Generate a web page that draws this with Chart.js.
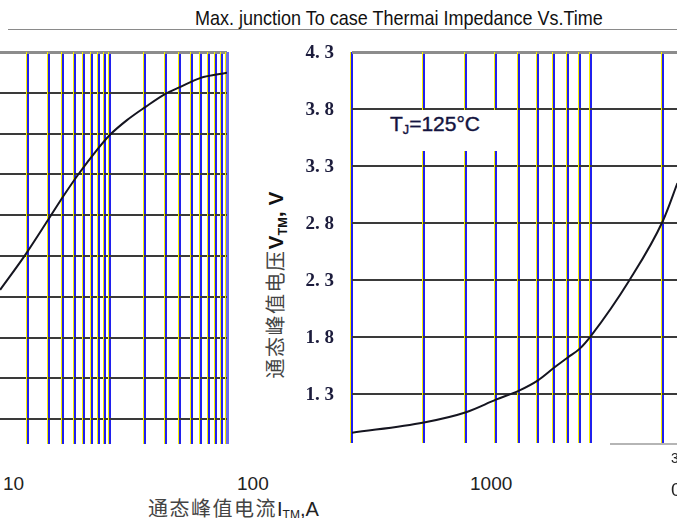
<!DOCTYPE html>
<html>
<head>
<meta charset="utf-8">
<script src="https://cdn.jsdelivr.net/npm/chart.js@4.4.1/dist/chart.umd.min.js"></script>
<style>
body{margin:0;width:677px;height:518px;overflow:hidden;background:#fff;position:relative;font-family:"Liberation Sans",Arial,sans-serif;color:#222}
.abs{position:absolute;white-space:nowrap}
.cjk{font-family:"Noto Sans CJK SC",sans-serif;color:#444;letter-spacing:1.5px}
sub{font-size:0.6em;vertical-align:-0.25em}
</style>
</head>
<body>
<div class="abs" style="left:8px;top:29px;width:669px;height:1px;background:#8a8a8a"></div>
<div id="title" class="abs" style="left:195px;top:6px;font-size:21px;color:#111;transform-origin:0 0">Max. junction To case Thermai Impedance Vs.Time</div>

<div class="abs" style="left:0;top:50px;width:230px;height:394px"><canvas id="cl"></canvas></div>
<div class="abs" style="left:295px;top:40px;width:382px;height:415px"><canvas id="cr"></canvas></div>

<div class="abs" style="left:380px;top:110px;width:125px;height:41px;background:#fff"></div>
<div class="abs" style="left:390px;top:112px;font-size:21px;color:#141440;-webkit-text-stroke:0.4px #141440">T<sub>J</sub>=125°C</div>

<div class="abs" style="left:275px;top:285px;transform:translate(-50%,-50%) rotate(-90deg)"><span class="cjk" style="font-size:20px">通态峰值电压</span><b style="font-size:21px;color:#111">V<sub>TM</sub>, V</b></div>
<div class="abs" style="left:148px;top:493px"><span class="cjk" style="font-size:20px">通态峰值电流</span><span style="font-size:20px">I<sub>TM</sub>,A</span></div>

<div id="xlabels"></div>
<div class="abs" style="left:610px;top:443px;width:67px;height:2px;background:#b5b5b5"></div>
<div class="abs" style="left:671px;top:450px;font-size:14px">3</div>
<div class="abs" style="left:671px;top:479px;font-size:19px">0</div>

<script>
// left chart: peak on-state current vs voltage
var leftCurrent = [11.5, 18.8, 29.5, 39.6, 53.3, 77.4, 100, 139.6, 200, 295, 396, 588, 1000]
var leftVolt = [4.17, 5.02, 5.88, 6.45, 6.99, 7.60, 7.97, 8.33, 8.65, 8.97, 9.14, 9.36, 9.49]
var leftXGrid = [20, 30, 40, 50, 60, 70, 80, 90, 100, 200, 300, 400, 500, 600, 700, 800, 900, 1000]
var leftYGrid = [1, 2, 3, 4, 5, 6, 7, 8, 9, 10]

// right chart: VTM vs ITM at 125C
var rightCurrent = [100, 200, 300, 400, 500, 600, 700, 800, 900, 1000, 1450, 2000, 2300]
var rightVolt = [0.96, 1.05, 1.14, 1.25, 1.33, 1.42, 1.53, 1.62, 1.70, 1.81, 2.30, 2.82, 3.15]
var rightXGrid = [100, 200, 300, 400, 500, 600, 700, 800, 900, 1000, 2000]
var rightYTicks = [1.3, 1.8, 2.3, 2.8, 3.3, 3.8, 4.3]

// x tick labels as printed (they sit off the grid in the scan)
var xLabelText = ['10', '100', '1000']
var xLabelLeft = [3, 237, 470]

xLabelText.forEach(function(t, i){
  var d = document.createElement('div')
  d.className = 'abs'
  d.style.left = xLabelLeft[i] + 'px'
  d.style.top = '473px'
  d.style.fontSize = '19px'
  d.textContent = t
  document.getElementById('xlabels').appendChild(d)
})

var t = document.getElementById('title')
t.style.transform = 'scaleX(' + (408 / t.offsetWidth) + ')'

// yellow edge left of each blue grid line, like the scan
var fringe = {
  id: 'fringe',
  beforeDatasetsDraw: function(chart){
    var c = chart.ctx, a = chart.chartArea, sx = chart.scales.x
    c.save()
    c.strokeStyle = '#f4ee00'
    c.lineWidth = 1
    sx.ticks.forEach(function(tk){
      var px = Math.round(sx.getPixelForValue(tk.value) - 1) + 1 - 1.5
      c.beginPath(); c.moveTo(px, a.top); c.lineTo(px, a.bottom); c.stroke()
    })
    c.restore()
  }
}

// y labels of the right chart, "4. 3" style
var yLabels = {
  id: 'yLabels',
  afterDraw: function(chart){
    var c = chart.ctx, sy = chart.scales.y, left = chart.chartArea.left
    c.save()
    c.font = 'bold 19px "Liberation Serif"'
    c.fillStyle = '#1c1c3c'
    c.textAlign = 'right'
    c.textBaseline = 'middle'
    rightYTicks.forEach(function(v){
      c.fillText(v.toFixed(1).replace('.', '. '), left - 18, sy.getPixelForValue(v) + 1)
    })
    c.restore()
  }
}

function pts(xs, ys){ return xs.map(function(x, i){ return {x: x, y: ys[i]} }) }
function setTicks(list){ return function(s){ s.ticks = list.map(function(v){ return {value: v} }) } }

new Chart(document.getElementById('cl'), {
  type: 'line',
  data: { datasets: [{ data: pts(leftCurrent, leftVolt), borderColor: '#151520', borderWidth: 2,
    pointRadius: 0, cubicInterpolationMode: 'monotone' }] },
  options: {
    responsive: true, maintainAspectRatio: false, animation: false,
    layout: { padding: { top: 2, right: 3, left: 0, bottom: 0 } },
    plugins: { legend: { display: false }, tooltip: { enabled: false } },
    scales: {
      x: { type: 'logarithmic', min: 11.47, max: 1000, afterBuildTicks: setTicks(leftXGrid),
        afterFit: function(s){ s.height = 0 },
        ticks: { display: false, autoSkip: false }, border: { display: false },
        grid: { drawTicks: false, color: function(c){ return c.tick && c.tick.value == 1000 ? '#6a6aee' : '#2020ee' },
          lineWidth: function(c){ return c.tick && c.tick.value == 1000 ? 3 : 2 } } },
      y: { min: 0.39, max: 10, afterBuildTicks: setTicks(leftYGrid),
        afterFit: function(s){ s.width = 0 },
        ticks: { display: false }, border: { display: false },
        grid: { drawTicks: false, color: function(c){ return c.tick && c.tick.value == 10 ? '#8c8c8c' : '#3a3a3a' },
          lineWidth: function(c){ return c.tick && c.tick.value == 10 ? 3 : 2 } } }
    }
  },
  plugins: [fringe]
})

new Chart(document.getElementById('cr'), {
  type: 'line',
  data: { datasets: [{ data: pts(rightCurrent, rightVolt), borderColor: '#151520', borderWidth: 2,
    pointRadius: 0, cubicInterpolationMode: 'monotone' }] },
  options: {
    responsive: true, maintainAspectRatio: false, animation: false,
    layout: { padding: { top: 12, right: 0, left: 57, bottom: 12 } },
    plugins: { legend: { display: false }, tooltip: { enabled: false } },
    scales: {
      x: { type: 'logarithmic', min: 100, max: 2290, afterBuildTicks: setTicks(rightXGrid),
        afterFit: function(s){ s.height = 0 },
        ticks: { display: false, autoSkip: false }, border: { display: false },
        grid: { drawTicks: false, color: '#2020ee', lineWidth: 2 } },
      y: { min: 0.87, max: 4.3, afterBuildTicks: setTicks(rightYTicks),
        afterFit: function(s){ s.width = 0 },
        ticks: { display: false }, border: { display: false },
        grid: { drawTicks: false, color: function(c){ return c.tick && c.tick.value == 4.3 ? '#8c8c8c' : '#3a3a3a' },
          lineWidth: function(c){ return c.tick && c.tick.value == 4.3 ? 3 : 2 } } }
    }
  },
  plugins: [fringe, yLabels]
})
</script>
</body>
</html>
